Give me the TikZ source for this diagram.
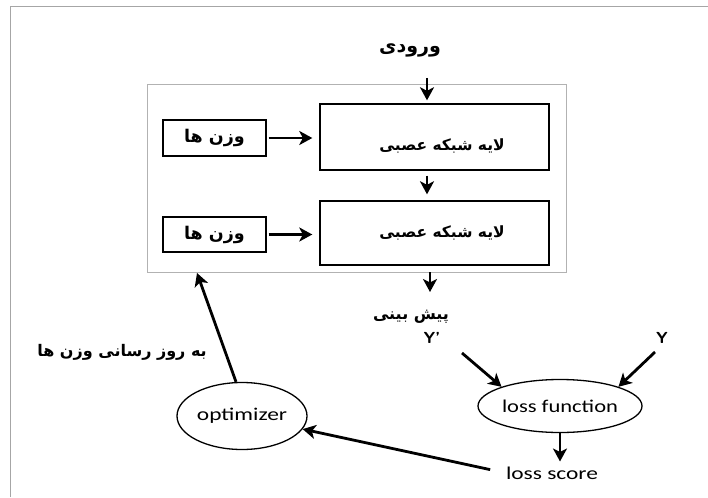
\documentclass[tikz,border=0pt]{standalone}
\usepackage{fontspec}
\usepackage{graphicx}
\setmainfont{Carlito}
\newfontfamily\fa[Script=Arabic]{DejaVu Sans}
\TeXXeTstate=1
\usetikzlibrary{arrows.meta,shapes.geometric}
\begin{document}
\begin{tikzpicture}[x=1pt,y=-1pt,
  box/.style={draw,line width=1.4pt,inner sep=0pt},
  arr/.style={-{Stealth[length=13pt,width=14pt,inset=3.5pt]},line width=2.8pt},
  ptext/.style={font=\fa\bfseries\fontsize{#1}{#1}\selectfont,inner sep=0pt},
  ptext/.default=16,
  ltext/.style={font=\fontsize{18}{20}\selectfont,inner sep=0pt},
  ell/.style={draw,ellipse,line width=1.3pt,inner sep=0pt},
  ylab/.style={font=\sffamily\bfseries\fontsize{16}{16}\selectfont,inner sep=0pt},
]
\useasboundingbox (0,0) rectangle (708,497);
\draw[gray!70,line width=1pt] (10,497) -- (10,7) -- (708,7);
\node[draw=gray!60,line width=0.8pt,minimum width=419pt,minimum height=188pt,inner sep=0pt] (outer) at (356.5,178) {};
% top input
\node[ptext=19] (input) at (410,50) {\beginR ورودی\endR};
\node[box,minimum width=229pt,minimum height=66pt] (l1) at (434.5,137) {};
\node[ptext=15.5] (l1t) at (442,146) {\beginR لایه شبکه عصبی\endR};
\node[box,minimum width=229pt,minimum height=64pt] (l2) at (434.5,233) {};
\node[ptext=15.5] (l2t) at (442,233) {\beginR لایه شبکه عصبی\endR};
\node[box,minimum width=103pt,minimum height=36pt,ptext=17.5] (w1) at (214.5,138) {\beginR وزن ها\endR};
\node[box,minimum width=103pt,minimum height=35pt,ptext=17.5] (w2) at (214.5,234.5) {\beginR وزن ها\endR};
\node[ptext=16] (pred) at (411,317) {\beginR پیش بینی\endR};
\node[ylab] (yp) at (432,338) {Y'};
\node[ylab] (y) at (662,338) {Y};
\node[ptext=16] (upd) at (122,352) {\beginR به روز رسانی وزن ها\endR};
\node[ell,minimum width=164pt,minimum height=53pt,ltext] (lossfn) at (560,406) {\scalebox{1.25}[1]{loss function}};
\node[ell,minimum width=130pt,minimum height=67pt,ltext] (opt) at (242,416) {\scalebox{1.3}[1]{optimizer}};
\node[ltext] (score) at (552,473) {\scalebox{1.3}[1]{loss score}};
% connectors
\coordinate (inarr) at (427,78);
\draw[arr,shorten >=3pt] (inarr) -- (inarr |- l1.north);
\draw[arr,shorten <=2pt,shorten >=7pt] (w1) -- (l1.west |- w1);
\draw[arr,shorten <=2pt,shorten >=7pt] (w2) -- (l2.west |- w2);
\draw[arr,shorten <=5pt,shorten >=6pt] (inarr |- l1.south) -- (inarr |- l2.north);
\coordinate (predarr) at (430,292);
\draw[arr] (predarr |- outer.south) -- (predarr);
\coordinate (ypstart) at (462,353);
\coordinate (ystart) at (655,352);
\draw[arr] (ypstart) -- (lossfn.north west);
\draw[arr] (ystart) -- (lossfn.north east);
\draw[arr,shorten >=5pt] (lossfn.south) -- (lossfn.south |- score.north);
\draw[arr,shorten <=16pt] (score.west) -- (opt);
\coordinate (updend) at (197,273);
\draw[arr] ([xshift=-6pt]opt.north) -- (updend);
\end{tikzpicture}
\end{document}
